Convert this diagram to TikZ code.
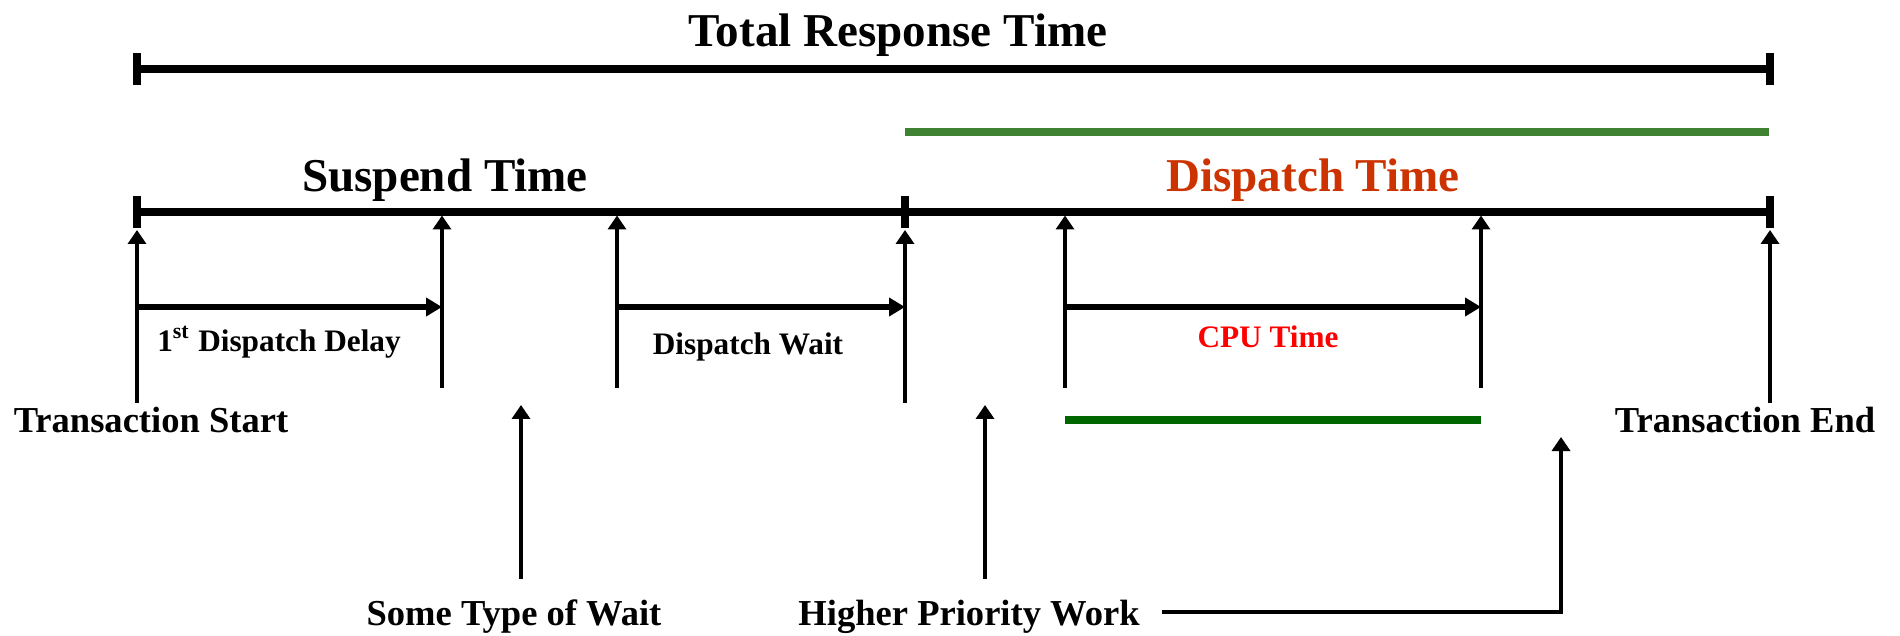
\documentclass[tikz,border=0pt]{standalone}
\usepackage{fontspec}
\setmainfont{Liberation Serif}
\usetikzlibrary{arrows.meta}
\definecolor{dispred}{RGB}{204,51,0}
\definecolor{barg}{RGB}{62,130,50}
\definecolor{cpug}{RGB}{0,102,0}
\begin{document}
\begin{tikzpicture}
\tikzstyle{every node}=[font=\bfseries, inner sep=0pt, anchor=base]
\tikzstyle{big}=[font=\fontsize{13.4}{16}\selectfont\bfseries]
\tikzstyle{mid}=[font=\fontsize{10.4}{12}\selectfont\bfseries]
\tikzstyle{small}=[font=\fontsize{8.9}{11}\selectfont\bfseries]
\tikzstyle{timeline}=[line width=2.2pt]
\tikzstyle{tick}=[line width=2.2pt]
\tikzstyle{up}=[line width=1.4pt, -{Triangle[length=0.14cm,width=0.18cm]}]
\tikzstyle{span}=[line width=1.6pt, -{Triangle[length=0.16cm,width=0.18cm]}]
\useasboundingbox (0,0) rectangle (19,6.35);

% total response
\node[big] (total) at (8.98,5.88) {Total Response Time};
\coordinate (r0) at (1.37,5.66);
\coordinate (r1) at (17.70,5.66);
\draw[timeline] (r0) -- (r1);
\foreach \p in {r0,r1}
	\draw[tick] ([yshift=-0.16cm]\p) -- ([yshift=0.16cm]\p);

% suspend / dispatch
\draw[timeline, barg] (9.05,5.03) -- (17.69,5.03);
\node[big] (suspend) at (4.45,4.43) {Suspend Time};
\node[big, text=dispred] (dispatch) at (13.13,4.43) {Dispatch Time};
\coordinate (s0) at (1.37,4.23);
\coordinate (s1) at (4.42,4.23);
\coordinate (s2) at (6.17,4.23);
\coordinate (s3) at (9.05,4.23);
\coordinate (s4) at (10.65,4.23);
\coordinate (s5) at (14.81,4.23);
\coordinate (s6) at (17.70,4.23);
\draw[timeline] (s0) -- (s6);
\foreach \p in {s0,s3,s6} {
	\draw[tick] ([yshift=-0.16cm]\p) -- ([yshift=0.16cm]\p);
	\draw[up] ([yshift=-1.91cm]\p) -- ([yshift=-0.18cm]\p);
}
\foreach \p in {s1,s2,s4,s5}
	\draw[up] ([yshift=-1.76cm]\p) -- ([yshift=-0.035cm]\p);

% intervals
\draw[span] ([yshift=-0.95cm]s0) -- ([yshift=-0.95cm]s1);
\draw[span] ([yshift=-0.95cm]s2) -- ([yshift=-0.95cm]s3);
\draw[span] ([yshift=-0.95cm]s4) -- ([yshift=-0.95cm]s5);
\node[small] (delay) at (2.79,2.83) {1\textsuperscript{st} Dispatch Delay};
\node[small] (dwait) at (7.48,2.81) {Dispatch Wait};
\node[small, text=red] (cpu) at (12.68,2.87) {CPU Time};
\draw[timeline, cpug] (10.65,2.15) -- (14.81,2.15);

\node[mid] (tstart) at (1.51,2.02) {Transaction Start};
\node[mid] (tend) at (17.45,2.02) {Transaction End};

% events below
\node[mid] (wait) at (5.14,0.10) {Some Type of Wait};
\node[mid] (prio) at (9.69,0.10) {Higher Priority Work};
\coordinate (w0) at (5.21,0.56);
\coordinate (w1) at (5.21,2.30);
\coordinate (h0) at (9.85,0.56);
\coordinate (h1) at (9.85,2.30);
\coordinate (e1) at (15.61,1.98);
\draw[up] (w0) -- (w1);
\draw[up] (h0) -- (h1);
\draw[up] ([xshift=0.22cm]prio.east |- 0,0.23) -| (e1);
\end{tikzpicture}
\end{document}
